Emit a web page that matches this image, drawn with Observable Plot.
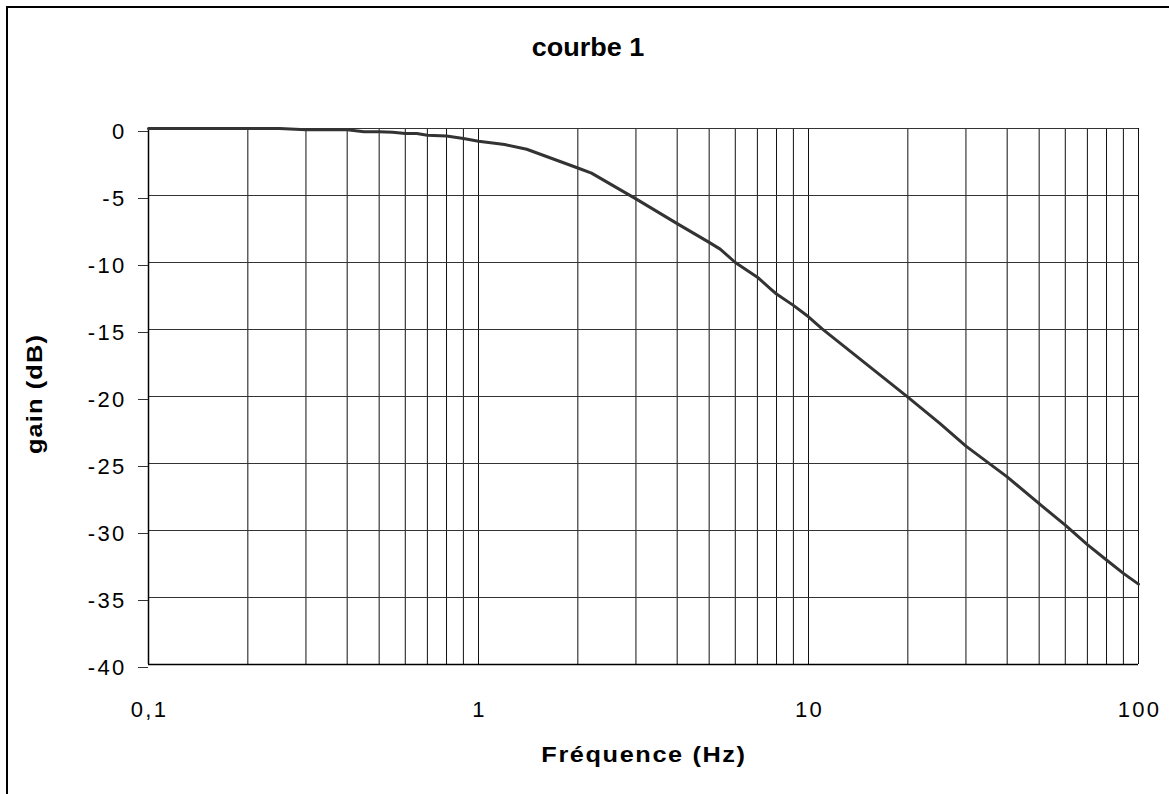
<!DOCTYPE html>
<html>
<head>
<meta charset="utf-8">
<script src="https://cdn.jsdelivr.net/npm/d3@7"></script>
<script src="https://cdn.jsdelivr.net/npm/@observablehq/plot@0.6"></script>
<style>
  html, body { margin: 0; padding: 0; background: #fff; overflow: hidden; }
  #wrap { position: relative; width: 1169px; height: 794px; }
  #border { position: absolute; left: 6px; top: 6px; width: 1200px; height: 820px;
            border-left: 2px solid #000; border-top: 2px solid #000; box-sizing: border-box; }
  .t { position: absolute; font-family: "Liberation Sans", Arial, sans-serif; font-weight: bold;
       color: #000; line-height: 1; white-space: nowrap; text-align: center; }
  #chart { position: absolute; left: 0; top: 0; }
  #chart svg text { letter-spacing: 2.3px; }
</style>
</head>
<body>
<div id="wrap">
  <div id="chart"></div>
  <div id="border"></div>
  <div class="t" id="title" style="left:388px; top:35px; width:400px; font-size:25px; height:25px; transform: scaleX(1.08);">courbe 1</div>
  <div class="t" id="xlabel" style="left:444px; top:744px; width:400px; font-size:22px; height:22px; letter-spacing:1.4px; transform: scaleX(1.15);">Fréquence (Hz)</div>
  <div class="t" id="ylabel" style="left:-115px; top:383px; width:300px; font-size:22px; height:22px; letter-spacing:1px; transform: rotate(-90deg) scaleX(1.15);">gain (dB)</div>
</div>
<script>
// Data
const freq = [0.1, 0.2, 0.25, 0.3, 0.4, 0.45, 0.5, 0.55, 0.6, 0.65, 0.7, 0.8, 0.9, 1,
              1.2, 1.4, 2, 2.2, 3, 4, 5, 5.4, 6, 7, 7.7, 8, 9, 10, 11,
              20, 25, 30, 40, 50, 60, 70, 80, 90, 100];
const gain = [0, 0, 0, -0.1, -0.1, -0.25, -0.25, -0.28, -0.37, -0.37, -0.5, -0.56, -0.75, -0.95,
              -1.2, -1.55, -2.95, -3.33, -5.25, -7.1, -8.5, -9.0, -10, -11.1, -12, -12.35, -13.2, -14.05, -14.95,
              -20.05, -22.0, -23.7, -26.0, -28.0, -29.6, -31.05, -32.2, -33.2, -34.0];

const xTicks = [0.1, 1, 10, 100];
const xTickLabels = ["0,1", "1", "10", "100"];
const xGrid = [0.1,0.2,0.3,0.4,0.5,0.6,0.7,0.8,0.9,1,2,3,4,5,6,7,8,9,10,20,30,40,50,60,70,80,90,100];
const yTicks = [0, -5, -10, -15, -20, -25, -30, -35, -40];

const data = freq.map((f, i) => ({f, g: gain[i]}));

const chart = Plot.plot({
  width: 1169,
  height: 794,
  marginLeft: 148,
  marginRight: 31,
  marginTop: 128,
  marginBottom: 130,
  style: {fontFamily: "'Liberation Sans', Arial, sans-serif", fontSize: "22px", color: "#000", background: "transparent", overflow: "visible"},
  x: {type: "log", domain: [0.1, 100]},
  y: {domain: [-40, 0]},
  marks: [
    Plot.ruleX(xGrid, {stroke: "#111", strokeWidth: 1}),
    Plot.ruleY(yTicks, {stroke: "#333", strokeWidth: 1}),
    Plot.ruleX([0.1], {stroke: "#000", strokeWidth: 1.5}),
    Plot.ruleY([-40], {stroke: "#000", strokeWidth: 1.5}),
    Plot.axisY({ticks: yTicks, tickSize: 10, tickPadding: 12, dy: 3, fontSize: 22,
                tickFormat: d => String(d).replace("−", "-"), label: null, stroke: "#333"}),
    Plot.axisX({ticks: xTicks, tickSize: 0, tickPadding: 37, dx: 1, fontSize: 22,
                tickFormat: d => xTickLabels[xTicks.indexOf(d)], label: null}),
    Plot.line(data, {x: "f", y: "g", stroke: "#333", strokeWidth: 3, strokeLinejoin: "round", curve: "linear"})
  ]
});
document.getElementById("chart").appendChild(chart);
</script>
</body>
</html>
